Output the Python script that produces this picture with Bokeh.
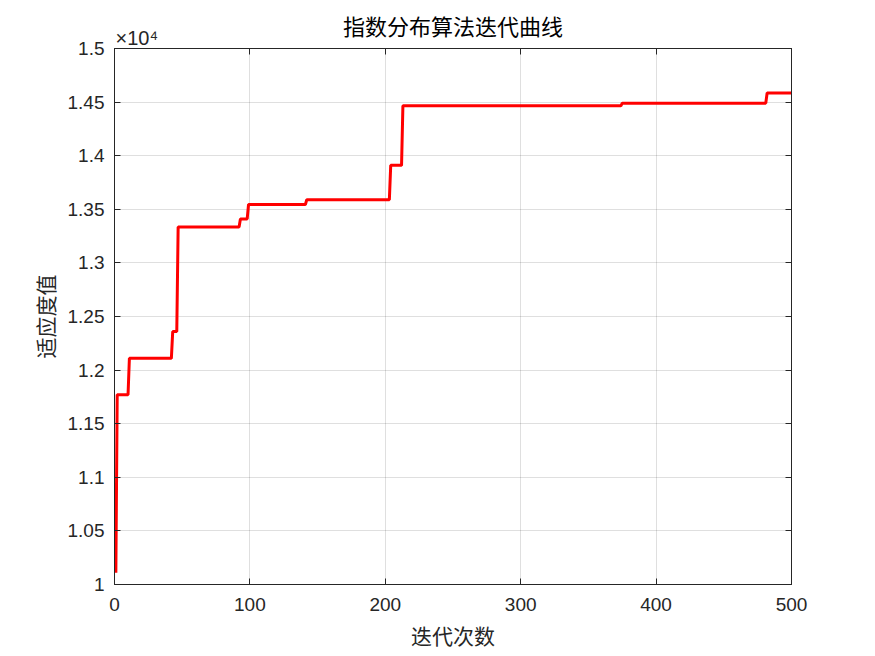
from bokeh.plotting import figure
from bokeh.models import FixedTicker, LinearAxis, Title, Range1d
from bokeh.embed import file_html
from bokeh.resources import INLINE

# --- data ---
title_text = "指数分布算法迭代曲线"
x_label = "迭代次数"
y_label = "适应度值"
y_multiplier = "×10⁴"
n_iter = 500
step_starts = [1, 2, 11, 43, 47, 93, 99, 142, 204, 213, 375, 482]
step_values = [10110, 11770, 12110, 12360, 13335, 13410, 13545, 13590, 13910, 14465, 14490, 14585]
x_ticks = [0, 100, 200, 300, 400, 500]
y_ticks = [10000, 10500, 11000, 11500, 12000, 12500, 13000, 13500, 14000, 14500, 15000]
y_tick_labels = ["1", "1.05", "1.1", "1.15", "1.2", "1.25", "1.3", "1.35", "1.4", "1.45", "1.5"]

# per-iteration best value (held constant between improvements)
iters = list(range(1, n_iter + 1))
best = []
for i in iters:
    v = step_values[0]
    for s, val in zip(step_starts, step_values):
        if s <= i:
            v = val
    best.append(v)

TXT = "#262626"
FONT = "Liberation Sans"
CJK = "Noto Sans CJK SC"

p = figure(width=875, height=656, output_backend="svg", toolbar_location=None,
           x_range=Range1d(0, 500), y_range=Range1d(10000, 15000),
           min_border_left=114, min_border_right=84, min_border_top=48, min_border_bottom=72)

p.title.text = title_text
p.title.align = "center"
p.title.text_font = CJK
p.title.text_font_style = "normal"
p.title.text_font_size = "22px"
p.title.text_color = "#000000"
p.title.standoff = -32
p.title.offset = 0

p.line(iters, best, line_color="#ff0000", line_width=3)

p.outline_line_color = TXT
p.outline_line_alpha = 1.0
p.outline_line_width = 1

def style_axis(ax):
    ax.axis_line_color = TXT
    ax.major_tick_line_color = TXT
    ax.major_tick_in = 6
    ax.major_tick_out = 0
    ax.minor_tick_line_color = None
    ax.major_label_text_font = FONT
    ax.major_label_text_font_size = "19px"
    ax.major_label_text_color = TXT

xa = p.xaxis[0]
xa.ticker = FixedTicker(ticks=x_ticks)
style_axis(xa)
xa.major_label_standoff = 13
xa.axis_label = x_label
xa.axis_label_text_font = CJK
xa.axis_label_text_font_style = "normal"
xa.axis_label_text_font_size = "21px"
xa.axis_label_text_color = TXT
xa.axis_label_standoff = 6

ya = p.yaxis[0]
ya.ticker = FixedTicker(ticks=y_ticks)
ya.major_label_overrides = {t: l for t, l in zip(y_ticks, y_tick_labels)}
style_axis(ya)
ya.major_label_standoff = 10
ya.axis_label = y_label
ya.axis_label_text_font = CJK
ya.axis_label_text_font_style = "normal"
ya.axis_label_text_font_size = "21px"
ya.axis_label_text_color = TXT
ya.axis_label_standoff = 5

top = LinearAxis(ticker=FixedTicker(ticks=x_ticks))
style_axis(top)
top.major_label_overrides = {t: "" for t in x_ticks}
top.major_label_standoff = 0
p.add_layout(top, "above")
right = LinearAxis(ticker=FixedTicker(ticks=y_ticks))
style_axis(right)
right.major_label_overrides = {t: "" for t in y_ticks}
right.major_label_standoff = 0
p.add_layout(right, "right")

# multiplier note above the y axis
p.add_layout(Title(text=y_multiplier, align="left", offset=1, standoff=0,
                   text_font=FONT, text_font_size="20px", text_font_style="normal",
                   text_color=TXT), "above")

p.xgrid.ticker = FixedTicker(ticks=x_ticks)
p.ygrid.ticker = FixedTicker(ticks=y_ticks)
for g in (p.xgrid[0], p.ygrid[0]):
    g.grid_line_color = TXT
    g.grid_line_alpha = 0.15

p.background_fill_color = "white"
p.border_fill_color = "white"

open("out.html", "w").write(file_html(p, INLINE))
